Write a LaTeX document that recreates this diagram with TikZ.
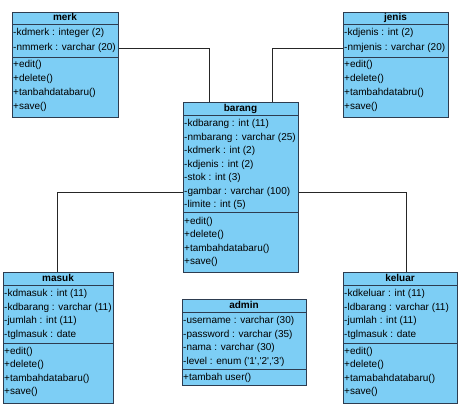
\documentclass[tikz,border=0pt]{standalone}
\usepackage{fontspec}
\setmainfont{Liberation Sans}
\definecolor{clsfill}{RGB}{125,206,245}
\definecolor{clsline}{RGB}{45,60,80}
\tikzset{
  cls/.style={draw=clsline, fill=clsfill, line width=0.9pt, inner sep=0pt, rectangle},
  sep/.style={draw=clsline, line width=0.9pt},
  ttl/.style={font=\fontsize{10}{12}\selectfont\bfseries, inner sep=0pt, text height=7.5pt, text depth=2pt},
  row/.style={anchor=west, inner sep=0pt, font=\fontsize{10}{12}\selectfont, text height=7.5pt, text depth=2.5pt},
  conn/.style={draw=black!85, line width=0.8pt}
}
\newcommand\classbox[8]{%
  \node[cls, anchor=north west, minimum width={#3-#2}, minimum height={#7-#4}] (#1) at (#2,-#4) {};
  \draw[sep] (#2,-#5) -- (#3,-#5);
  \draw[sep] (#2,-#6) -- (#3,-#6);
  \node[ttl] (#1-t) at ({(#2+#3)/2},{-(#4+#5)/2}) {#8};
}
\newcommand\rowlist[5]{%
  \foreach \t [count=\i from 0] in {#5} \node[row] (#1\i) at ({#2+1},{-(#3+\i*#4)}) {\t};
}
\begin{document}
\begin{tikzpicture}[x=1pt,y=1pt]
\useasboundingbox[fill=white] (0,0) rectangle (465,-412);
% merk
\classbox{merk}{12}{118}{12}{24}{57}{117}{merk}
\rowlist{merk-a}{12}{33.5}{14.5}{{-kdmerk : integer (2)},{-nmmerk : varchar (20)}}
\rowlist{merk-m}{12}{65}{14}{{+edit()},{+delete()},{+tanbahdatabaru()},{+save()}}
% jenis
\classbox{jenis}{343}{448}{12}{24}{57}{117}{jenis}
\rowlist{jenis-a}{343}{33.5}{14.5}{{-kdjenis : int (2)},{-nmjenis : varchar (20)}}
\rowlist{jenis-m}{343}{65}{14}{{+edit()},{+delete()},{+tambahdatabru()},{+save()}}
% barang
\classbox{barang}{183}{298}{102}{115}{212}{272}{barang}
\rowlist{barang-a}{183}{124}{13.5}{{-kdbarang : int (11)},{-nmbarang : varchar (25)},{-kdmerk : int (2)},{-kdjenis : int (2)},{-stok : int (3)},{-gambar : varchar (100)},{-limite : int (5)}}
\rowlist{barang-m}{183}{221.5}{13.5}{{+edit()},{+delete()},{+tambahdatabaru()},{+save()}}
% masuk
\classbox{masuk}{3}{113}{272}{285}{343}{403}{masuk}
\rowlist{masuk-a}{3}{294}{13.5}{{-kdmasuk : int (11)},{-kdbarang : varchar (11)},{-jumlah : int (11)},{-tglmasuk : date}}
\rowlist{masuk-m}{3}{351.5}{13.5}{{+edit()},{+delete()},{+tambahdatabaru()},{+save()}}
% admin
\classbox{admin}{182}{306}{299}{312}{369}{385}{admin}
\rowlist{admin-a}{182}{321}{13.5}{{-username : varchar (30)},{-password : varchar (35)},{-nama : varchar (30)},{-level : enum (\textquotesingle1\textquotesingle,\textquotesingle2\textquotesingle,\textquotesingle3\textquotesingle)}}
\rowlist{admin-m}{182}{377.5}{13.5}{{+tambah user()}}
% keluar
\classbox{keluar}{343}{457}{272}{285}{343}{403}{keluar}
\rowlist{keluar-a}{343}{294}{13.5}{{-kdkeluar : int (11)},{-ldbarang : varchar (11)},{-jumlah : int (11)},{-tglmasuk : date}}
\rowlist{keluar-m}{343}{351.5}{13.5}{{+edit()},{+delete()},{+tamabahdatabaru()},{+save()}}
% connectors
\draw[conn] ([yshift=-36pt]merk.north east) -| ([xshift=-31.5pt]barang.north);
\draw[conn] ([yshift=-36pt]jenis.north west) -| ([xshift=31.5pt]barang.north);
\draw[conn] ([yshift=-90pt]barang.north west) -| ([xshift=-1pt]masuk.north);
\draw[conn] ([yshift=-90pt]barang.north east) -| ([xshift=6pt]keluar.north);
\end{tikzpicture}
\end{document}
